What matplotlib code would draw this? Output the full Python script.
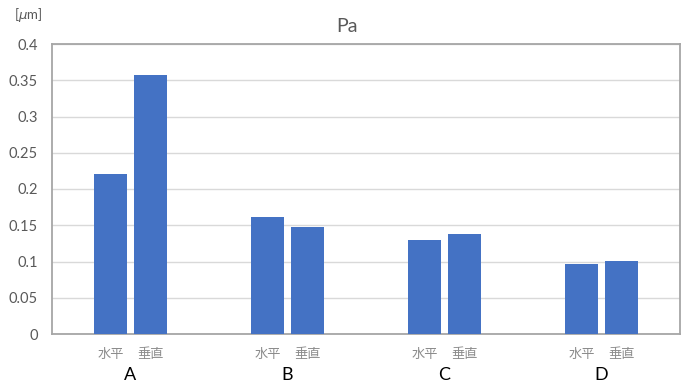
import numpy as np
import matplotlib
matplotlib.use('Agg')
from matplotlib import pyplot as plt

plt.rcParams['font.family'] = ['Lato', 'Noto Sans CJK JP', 'DejaVu Sans']

# data
groups = ['A', 'B', 'C', 'D']
sub_labels = ['水平', '垂直']
horizontal = [0.221, 0.161, 0.130, 0.097]
vertical = [0.357, 0.148, 0.138, 0.101]
yticks = [0, 0.05, 0.1, 0.15, 0.2, 0.25, 0.3, 0.35, 0.4]
ytick_labels = ['0', '0.05', '0.1', '0.15', '0.2', '0.25', '0.3', '0.35', '0.4']

bar_color = '#4472C4'
grid_color = '#D9D9D9'
edge_color = '#A6A6A6'
text_gray = '#595959'

fig = plt.figure(figsize=(6.83, 3.86), dpi=100)
ax = fig.add_axes([52/683, 1-334/386, 628/683, 290/386])

# each group uses 4 slots: blank, 水平, 垂直, blank
x_h = np.arange(len(groups)) * 4 + 1
x_v = x_h + 1
ax.bar(x_h, horizontal, width=0.84, color=bar_color, zorder=3)
ax.bar(x_v, vertical, width=0.84, color=bar_color, zorder=3)

ax.set_xlim(-0.5, 15.5)
ax.set_ylim(0, 0.4)
ax.set_yticks(yticks)
ax.set_yticklabels(ytick_labels, fontsize=10.5, color=text_gray)
ax.yaxis.grid(True, color=grid_color, linewidth=1, zorder=0)
ax.tick_params(axis='y', length=0, pad=10)
ax.set_xticks([])

for s in ax.spines.values():
    s.set_color(edge_color)
    s.set_linewidth(1.3)

# sub category labels
for i in range(len(groups)):
    for xx, lab in zip([x_h[i], x_v[i]], sub_labels):
        ax.text(xx, -0.027, lab, ha='center', va='center', fontsize=9.5,
                color='#8C8C8C', clip_on=False)
    ax.text((x_h[i] + x_v[i]) / 2, -0.057, groups[i], ha='center', va='center',
            fontsize=13, color='black', clip_on=False)

fig.text(347/683, 1-27/386, 'Pa', ha='center', va='center', fontsize=14, color=text_gray)
fig.text(28/683, 1-15/386, r'[$\mu$m]', ha='center', va='center', fontsize=9.5, color=text_gray)

fig.savefig('out.png', dpi=100)
